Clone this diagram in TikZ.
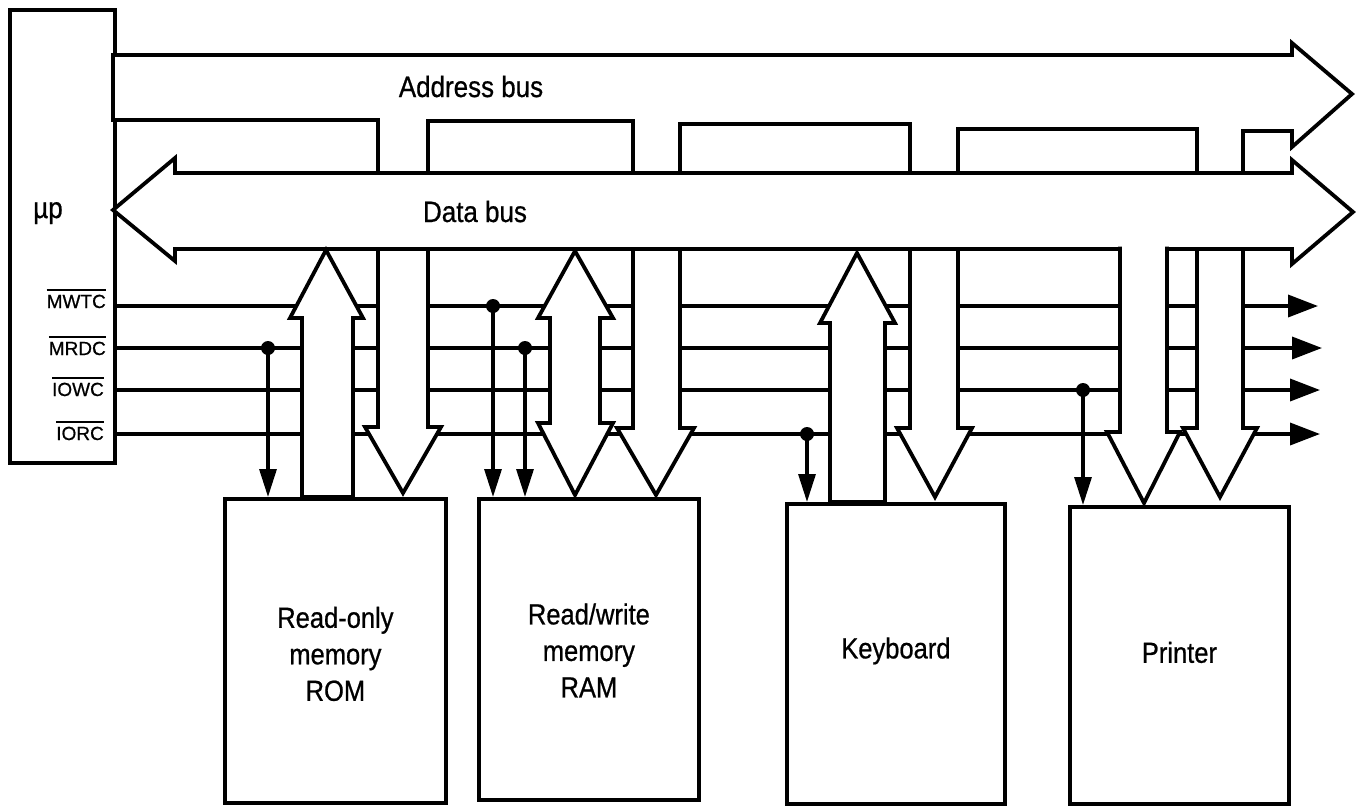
\documentclass[tikz,border=0pt]{standalone}
\usepackage{fontspec}
\setmainfont{Liberation Sans}[FakeBold=0.7]
\newfontfamily\titlefont{Liberation Sans}[FakeStretch=0.88,FakeBold=0.7]
\usetikzlibrary{arrows.meta}
\newcommand\barlabel[1]{\vbox{\hrule height 2pt\kern 4pt\hbox{#1}}}
\begin{document}
\begin{tikzpicture}[x=1pt,y=-1pt,line join=miter,
  wide/.style={draw=black,fill=white,line width=3.8pt},
  ctl/.style={line width=3.6pt,-{Triangle[length=30pt,width=22pt]}},
  tap/.style={line width=3.2pt,-{Triangle[length=28pt,width=17pt]}},
  jdot/.style={circle,fill=black,inner sep=0pt,minimum size=14pt},
  unit/.style={draw=black,fill=white,line width=3.8pt,anchor=north west,inner sep=0pt},
  devtxt/.style={align=center,inner sep=0pt,font=\titlefont\fontsize{29}{36.5}\selectfont},
  sig/.style={font=\fontsize{19}{19}\selectfont,anchor=base east,inner sep=0pt},
  title/.style={font=\titlefont\fontsize{29.5}{30}\selectfont,anchor=base,inner sep=0pt}]
\useasboundingbox (0,0) rectangle (1359,806);

% processor box
\node[unit,minimum width=105pt,minimum height=453pt] (up) at (8,8) {};

% control lines (drawn first, below the wide arrows)
\coordinate (mwtcE) at (1318,306);
\coordinate (mrdcE) at (1322,348);
\coordinate (iowcE) at (1320,390);
\coordinate (iorcE) at (1320,434);
\draw[ctl] (mwtcE -| up.east) -- (mwtcE);
\draw[ctl] (mrdcE -| up.east) -- (mrdcE);
\draw[ctl] (iowcE -| up.east) -- (iowcE);
\draw[ctl] (iorcE -| up.east) -- (iorcE);

% address bus with its branches
\draw[wide] (113,55) -- (1292,55) -- (1292,43) -- (1352,94) -- (1292,147) -- (1292,131)
  -- (1243,131) -- (1243,428) -- (1257,428) -- (1220,497) -- (1183,428) -- (1197,428) -- (1197,129)
  -- (958,129) -- (958,428) -- (972,428) -- (935,497) -- (897,428) -- (910,428) -- (910,124)
  -- (680,124) -- (680,428) -- (694,428) -- (656,495) -- (617,428) -- (633,428) -- (633,121)
  -- (428,121) -- (428,427) -- (441,427) -- (403,493) -- (365,427) -- (378,427) -- (378,120)
  -- (113,120) -- cycle;

% data bus
\draw[wide] (113,210) -- (175,158) -- (175,173) -- (1292,173) -- (1292,160) -- (1353,212)
  -- (1292,264) -- (1292,249) -- (175,249) -- (175,261) -- cycle;

% device boxes
\node[unit,minimum width=221pt,minimum height=304pt] (rom) at (223,497) {};
\node[unit,minimum width=220pt,minimum height=301pt] (ram) at (477,497) {};
\node[unit,minimum width=218pt,minimum height=300pt] (kbd) at (785,502) {};
\node[unit,minimum width=219pt,minimum height=297pt] (prn) at (1068,505) {};
\node[devtxt] (romtxt) at ([yshift=-3pt]rom.center) {Read-only\\memory\\ROM};
\node[devtxt] (ramtxt) at ([yshift=-1pt]ram.center) {Read/write\\memory\\RAM};
\node[devtxt] (kbdtxt) at ([yshift=3pt]kbd.center) {Keyboard};
\node[devtxt] (prntxt) at ([yshift=3pt]prn.center) {Printer};

% data arrows between devices and data bus
\draw[wide] (302,497) -- (302,318) -- (290,318) -- (326,250) -- (363,318) -- (353,318) -- (353,497) -- cycle;
\draw[wide] (575,251) -- (613,318) -- (600,318) -- (600,423) -- (613,423) -- (575,495)
  -- (538,423) -- (550,423) -- (550,318) -- (538,318) -- cycle;
\draw[wide] (830,502) -- (830,323) -- (820,323) -- (857,253) -- (895,323) -- (885,323) -- (885,502) -- cycle;
\draw[wide] (1120,246.5) -- (1120,432) -- (1107,432) -- (1144,503) -- (1180,432) -- (1167,432) -- (1167,246.5);

% taps from control lines
\node[jdot] (t1) at (268,348) {};
\node[jdot] (t2) at (493,306) {};
\node[jdot] (t3) at (525,348) {};
\node[jdot] (t4) at (807,434) {};
\node[jdot] (t5) at (1083,390) {};
\draw[tap] (t1.center) -- (t1 |- rom.north);
\draw[tap] (t2.center) -- (t2 |- ram.north);
\draw[tap] (t3.center) -- (t3 |- ram.north);
\draw[tap] (t4.center) -- (t4 |- kbd.north);
\draw[tap] (t5.center) -- (t5 |- prn.north);

% texts
\node[title] (uplbl) at (48,218) {µp};
\node[title] (abus) at (471,97) {Address bus};
\node[title] (dbus) at (475,222) {Data bus};
\node[sig] (l1) at (106,308) {\barlabel{MWTC}};
\node[sig] (l2) at (106,355) {\barlabel{MRDC}};
\node[sig] (l3) at (104,396) {\barlabel{IOWC}};
\node[sig] (l4) at (104,440) {\barlabel{IORC}};
\end{tikzpicture}
\end{document}
